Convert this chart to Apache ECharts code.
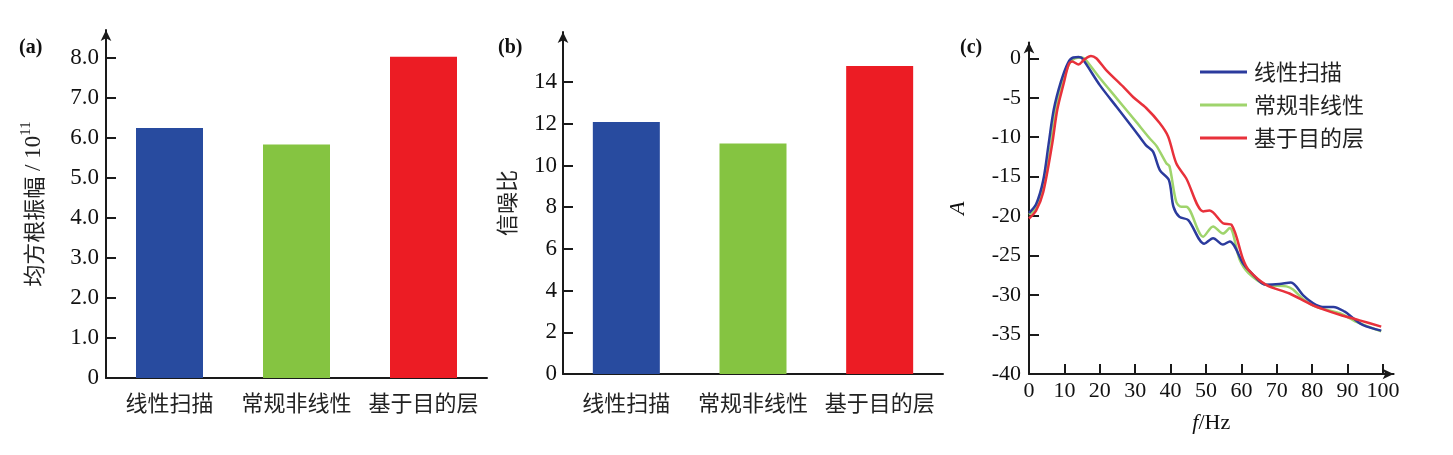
<!DOCTYPE html>
<html>
<head>
<meta charset="utf-8">
<script src="https://cdn.jsdelivr.net/npm/echarts@6/dist/echarts.min.js"></script>
<style>
html,body{margin:0;padding:0;background:#fff;}
#chart{width:1453px;height:455px;}
</style>
</head>
<body>
<div id="chart"></div>
<script>
const categories = ['线性扫描', '常规非线性', '基于目的层'];
const rmsValues = [6.25, 5.84, 8.03];
const snrValues = [12.08, 11.05, 14.77];
const rmsTicks = [0, 1, 2, 3, 4, 5, 6, 7, 8];
const snrTicks = [0, 2, 4, 6, 8, 10, 12, 14];
const ampTicks = [-40, -35, -30, -25, -20, -15, -10, -5, 0];
const freqTicks = [0, 10, 20, 30, 40, 50, 60, 70, 80, 90, 100];

const linearSweep = [[0,-19.6],[2,-18.5],[4,-15.5],[5.5,-11],[7,-6.5],[9,-3],[11,-0.6],[12.5,0.1],[14,0.15],[15,0],[20,-3.4],[25,-6.3],[30,-9.2],[33,-11],[35,-11.8],[37,-14.2],[39.5,-15.4],[40.8,-18.8],[42.5,-20.1],[45,-20.5],[49.5,-23.5],[52,-22.8],[54.8,-23.6],[56.7,-23.2],[60.5,-26],[62,-26.8],[67,-28.7],[70.8,-28.6],[74,-28.4],[77.4,-30],[80.2,-31],[83,-31.5],[86,-31.5],[89.2,-32.1],[91.5,-32.9],[94.4,-33.8],[99.5,-34.5]];
const conventional = [[0,-19.8],[2,-19],[4,-16.5],[6,-11.5],[7.5,-6.5],[9.5,-3],[11.5,-0.6],[13,0],[15,0.1],[16,-0.2],[20,-2.5],[25,-5.2],[30,-7.9],[34,-10.1],[36,-11.1],[38.8,-13.3],[39.7,-13.7],[41.6,-18.2],[43,-18.8],[44.4,-18.8],[49.2,-22.6],[52,-21.3],[54.8,-22.2],[56.7,-21.5],[59.5,-25.5],[62,-27.2],[67,-28.7],[72.7,-28.9],[74.6,-29.3],[77.4,-30.5],[81.2,-31.5],[87.8,-32.3],[92.5,-33.4],[99.5,-34.6]];
const targetLayer = [[0,-20.3],[2,-19.3],[4,-17],[6.5,-11],[8,-6.5],[9.8,-3.2],[11.2,-0.8],[12.2,-0.4],[14,-0.8],[15.5,-0.2],[17.5,0.3],[19,0],[21.8,-1.5],[26.6,-3.6],[29.4,-4.9],[33.1,-6.3],[36.9,-8.2],[39.3,-9.9],[41.6,-13.3],[44.4,-15.2],[49.2,-19.4],[51,-19.3],[54.8,-20.9],[57.2,-21.1],[60.5,-25.5],[62,-26.8],[67,-28.7],[73.6,-29.8],[80.2,-31.3],[87.8,-32.5],[93.4,-33.2],[99.5,-34]];

const barColors = ['#284b9f', '#85c441', '#ec1c24'];
const lineColors = ['#2b3b9d', '#9fd46c', '#e8313b'];
const AX = '#1a1a1a';
const SERIF = 'Liberation Serif';
const CJK = 'Noto Sans CJK SC';

function axisLineStyle(arrow) {
  return {
    show: true,
    onZero: false,
    lineStyle: { color: AX, width: 2 },
    symbol: arrow ? ['none', 'arrow'] : ['none', 'none'],
    symbolSize: [8, 11]
  };
}
function tickStyle(vals) {
  return { show: true, inside: true, length: 10, lineStyle: { color: AX, width: 2 }, customValues: vals };
}

const chart = echarts.init(document.getElementById('chart'), null, { renderer: 'canvas' });
chart.setOption({
  animation: false,
  backgroundColor: '#fff',
  title: [
    { text: '(a)', left: 14, top: 33, textStyle: { fontFamily: SERIF, fontWeight: 'bold', fontSize: 20, color: '#111' } },
    { text: '(b)', left: 493, top: 33, textStyle: { fontFamily: SERIF, fontWeight: 'bold', fontSize: 20, color: '#111' } },
    { text: '(c)', left: 955, top: 33, textStyle: { fontFamily: SERIF, fontWeight: 'bold', fontSize: 20, color: '#111' } }
  ],
  grid: [
    { left: 106, top: 30, width: 381, height: 348 },
    { left: 563, top: 32, width: 380, height: 342 },
    { left: 1029, top: 42.5, width: 364.6, height: 331.5 }
  ],
  legend: {
    orient: 'vertical',
    left: 1195,
    top: 56,
    itemWidth: 47,
    itemHeight: 3,
    itemGap: 11,
    icon: 'rect',
    textStyle: { fontFamily: CJK, fontSize: 22, color: '#222', padding: [0, 0, 0, 2] },
    data: categories
  },
  xAxis: [
    {
      gridIndex: 0, type: 'category', data: categories,
      axisLine: axisLineStyle(false), axisTick: { show: false },
      axisLabel: { interval: 0, hideOverlap: false, fontFamily: CJK, fontSize: 22, color: '#222', margin: 14 }
    },
    {
      gridIndex: 1, type: 'category', data: categories,
      axisLine: axisLineStyle(false), axisTick: { show: false },
      axisLabel: { interval: 0, hideOverlap: false, fontFamily: CJK, fontSize: 22, color: '#222', margin: 18 }
    },
    {
      gridIndex: 2, type: 'value', min: 0, max: 103,
      axisLine: axisLineStyle(true), axisTick: tickStyle(freqTicks),
      axisLabel: { customValues: freqTicks, fontFamily: SERIF, fontSize: 22, color: '#111', margin: 6 },
      splitLine: { show: false },
      name: '{i|f}{n|/Hz}', nameLocation: 'middle', nameGap: 38,
      nameTextStyle: { rich: {
        i: { fontFamily: SERIF, fontStyle: 'italic', fontSize: 22, color: '#111' },
        n: { fontFamily: SERIF, fontSize: 22, color: '#111' }
      } }
    }
  ],
  yAxis: [
    {
      gridIndex: 0, type: 'value', min: 0, max: 8.7,
      axisLine: axisLineStyle(true), axisTick: tickStyle(rmsTicks),
      axisLabel: { customValues: rmsTicks, fontFamily: SERIF, fontSize: 23, color: '#111', margin: 7,
        formatter: v => v === 0 ? '0' : v.toFixed(1) },
      splitLine: { show: false },
      name: '{c|均方根振幅}{s| / 10}{p|11}', nameLocation: 'middle', nameGap: 58,
      nameTextStyle: { rich: {
        c: { fontFamily: CJK, fontSize: 22, color: '#222' },
        s: { fontFamily: SERIF, fontSize: 23, color: '#222' },
        p: { fontFamily: SERIF, fontSize: 15, color: '#222', padding: [0, 0, 14, 0] }
      } }
    },
    {
      gridIndex: 1, type: 'value', min: 0, max: 16.4,
      axisLine: axisLineStyle(true), axisTick: tickStyle(snrTicks),
      axisLabel: { customValues: snrTicks, fontFamily: SERIF, fontSize: 23, color: '#111', margin: 6 },
      splitLine: { show: false },
      name: '信噪比', nameLocation: 'middle', nameGap: 45,
      nameTextStyle: { fontFamily: CJK, fontSize: 22, color: '#222' }
    },
    {
      gridIndex: 2, type: 'value', min: -40, max: 2,
      axisLine: axisLineStyle(true), axisTick: tickStyle(ampTicks),
      axisLabel: { customValues: ampTicks, fontFamily: SERIF, fontSize: 22, color: '#111', margin: 8 },
      splitLine: { show: false },
      name: 'A', nameLocation: 'middle', nameGap: 60,
      nameTextStyle: { fontFamily: SERIF, fontStyle: 'italic', fontSize: 22, color: '#111' }
    }
  ],
  series: [
    {
      type: 'bar', xAxisIndex: 0, yAxisIndex: 0, barWidth: 67, legendHoverLink: false,
      data: rmsValues.map((v, i) => ({ value: v, itemStyle: { color: barColors[i] } }))
    },
    {
      type: 'bar', xAxisIndex: 1, yAxisIndex: 1, barWidth: 67, legendHoverLink: false,
      data: snrValues.map((v, i) => ({ value: v, itemStyle: { color: barColors[i] } }))
    },
    { name: categories[0], type: 'line', xAxisIndex: 2, yAxisIndex: 2, data: linearSweep, smooth: 0.3, showSymbol: false, symbol: 'none',
      lineStyle: { color: lineColors[0], width: 2.5 }, itemStyle: { color: lineColors[0] }, z: 4 },
    { name: categories[1], type: 'line', xAxisIndex: 2, yAxisIndex: 2, data: conventional, smooth: 0.3, showSymbol: false, symbol: 'none',
      lineStyle: { color: lineColors[1], width: 2.5 }, itemStyle: { color: lineColors[1] }, z: 3 },
    { name: categories[2], type: 'line', xAxisIndex: 2, yAxisIndex: 2, data: targetLayer, smooth: 0.3, showSymbol: false, symbol: 'none',
      lineStyle: { color: lineColors[2], width: 2.5 }, itemStyle: { color: lineColors[2] }, z: 5 }
  ]
});
</script>
</body>
</html>
